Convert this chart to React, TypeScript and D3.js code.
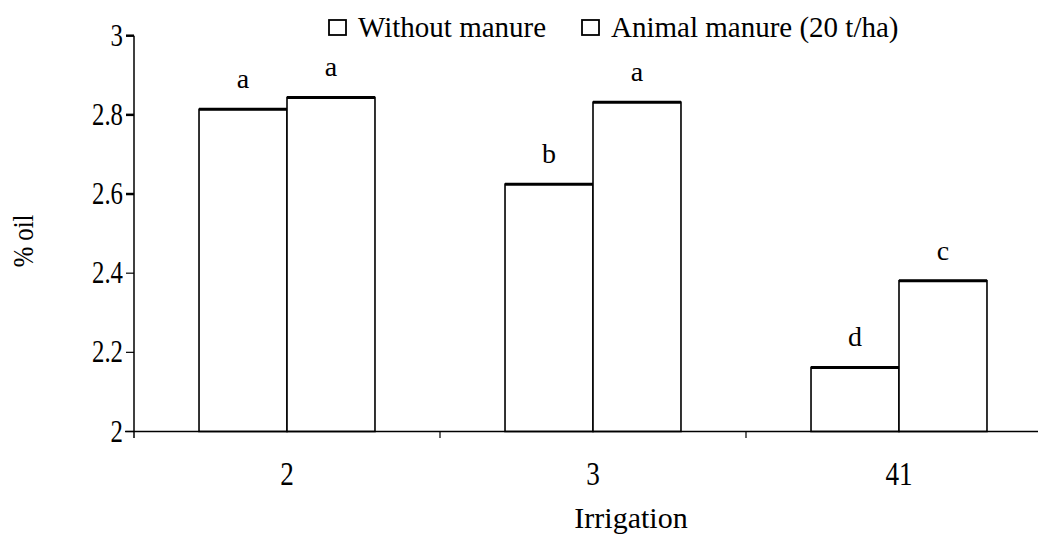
import * as d3 from "d3";

// irrigation levels on the x axis
const categories = ["2", "3", "41"];
const seriesNames = ["Without manure", "Animal manure (20 t/ha)"];
// % oil
const withoutManure = [2.814, 2.625, 2.162];
const animalManure = [2.844, 2.832, 2.381];
// significance letters above each bar
const lettersWithout = ["a", "b", "d"];
const lettersAnimal = ["a", "a", "c"];
const yTicks = [2, 2.2, 2.4, 2.6, 2.8, 3];
const yTickLabels = ["2", "2.2", "2.4", "2.6", "2.8", "3"];

const W = 1038;
const H = 534;
const left = 134;
const FONT = "Liberation Serif";

const App = () => {
  const x0 = d3.scaleBand().domain(categories).range([left, left + 918]).paddingInner(0);
  const x1 = d3
    .scaleBand()
    .domain(seriesNames)
    .range([0, x0.bandwidth()])
    .paddingInner(0)
    .paddingOuter(0.739);
  const y = d3.scaleLinear().domain([2, 3]).range([431.5, 35.7]);

  const series = [
    { name: seriesNames[0], values: withoutManure, letters: lettersWithout },
    { name: seriesNames[1], values: animalManure, letters: lettersAnimal },
  ];

  const y0 = y(2);

  return (
    <svg
      width={W}
      height={H}
      style={{ position: "absolute", left: 0, top: 0, background: "#fff" }}
    >
      <g fontFamily={FONT}>
        {/* bars */}
        {series.map((s) =>
          categories.map((c, i) => {
            const bx = (x0(c) as number) + (x1(s.name) as number);
            const bw = x1.bandwidth();
            const by = y(s.values[i]);
            return (
              <g key={s.name + c}>
                <rect x={bx} y={by} width={bw} height={y0 - by} fill="#fff" stroke="#000" strokeWidth={1.6} />
                <line x1={bx} x2={bx + bw} y1={by} y2={by} stroke="#000" strokeWidth={3} />
                <text x={bx + bw / 2} y={by - 21} textAnchor="middle" fontSize={28} fill="#000">
                  {s.letters[i]}
                </text>
              </g>
            );
          })
        )}

        {/* y axis */}
        <line x1={left} x2={left} y1={y(3)} y2={438} stroke="#000" strokeWidth={1.5} />
        {yTicks.map((t, i) => (
          <g key={t}>
            <line x1={left - 8} x2={left} y1={y(t)} y2={y(t)} stroke="#000" strokeWidth={i >= 3 ? 2.5 : 1.2} />
            <text
              transform={`translate(${left - 11},${y(t) + 10}) scale(0.8,1)`}
              textAnchor="end"
              fontSize={31}
              fill="#000"
            >
              {yTickLabels[i]}
            </text>
          </g>
        ))}

        {/* x axis */}
        <line x1={125} x2={W} y1={y0} y2={y0} stroke="#000" strokeWidth={1.5} />
        {categories.slice(1).map((c) => (
          <line key={c} x1={x0(c)} x2={x0(c)} y1={y0} y2={438} stroke="#000" strokeWidth={1.2} />
        ))}
        {categories.map((c) => (
          <text
            key={c}
            transform={`translate(${(x0(c) as number) + x0.bandwidth() / 2},485) scale(0.8,1)`}
            textAnchor="middle"
            fontSize={34}
            fill="#000"
          >
            {c}
          </text>
        ))}

        {/* axis titles */}
        <text x={631} y={528} textAnchor="middle" fontSize={30} fill="#000">
          Irrigation
        </text>
        <text
          transform="translate(33,241) rotate(-90) scale(0.85,1)"
          textAnchor="middle"
          fontSize={29}
          fill="#000"
        >
          % oil
        </text>

        {/* legend */}
        {seriesNames.map((n, i) => {
          const lx = [329, 582][i];
          return (
            <g key={n}>
              <rect x={lx} y={20} width={17} height={15} fill="#fff" stroke="#000" strokeWidth={1.8} />
              <text x={lx + 29} y={37} fontSize={29} fill="#000">
                {n}
              </text>
            </g>
          );
        })}
      </g>
    </svg>
  );
};

export default App;
